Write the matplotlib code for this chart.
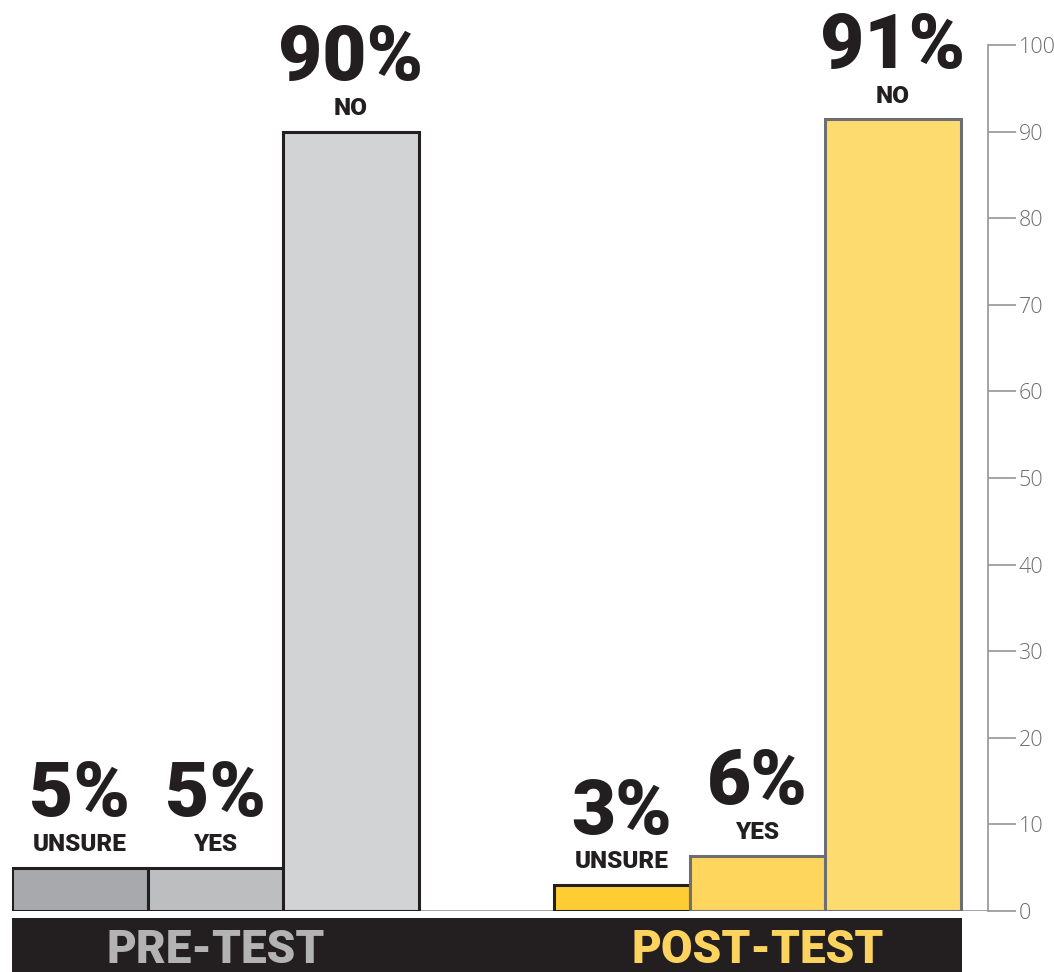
import numpy as np
import matplotlib.pyplot as plt

# -----------------------------
# Data (percent of respondents)
# -----------------------------
answers = ["UNSURE", "YES", "NO"]
pre_values = [5, 5, 90]
post_values = [3, 6.4, 91.4]
pre_labels = ["5%", "5%", "90%"]
post_labels = ["3%", "6%", "91%"]
groups = ["PRE-TEST", "POST-TEST"]
y_ticks = list(range(0, 101, 10))

# -----------------------------
# Style
# -----------------------------
cond = ["Liberation Sans Narrow", "Roboto", "DejaVu Sans"]
pre_colors = ["#a7a9ac", "#bcbec0", "#d1d3d4"]
post_colors = ["#fecd33", "#fed65e", "#fedb6f"]
pre_edges = ["#231f20", "#231f20", "#231f20"]
post_edges = ["#231f20", "#6d6e71", "#6d6e71"]
group_colors = ["#b3b3b3", "#fdd35f"]

fig = plt.figure(figsize=(10.54, 9.72), dpi=100)
ax = fig.add_axes([12 / 1054, 61 / 972, 976 / 1054, 866 / 972])

x_pre = np.arange(len(answers))
x_post = x_pre + 4

ax.bar(x_pre, pre_values, width=1.0, color=pre_colors,
       edgecolor=pre_edges, linewidth=2.2, zorder=3)
ax.bar(x_post, post_values, width=1.0, color=post_colors,
       edgecolor=post_edges, linewidth=2.2, zorder=3)

# value + answer labels above each bar
for xs, vals, labs in [(x_pre, pre_values, pre_labels),
                       (x_post, post_values, post_labels)]:
    for x, v, lab, ans in zip(xs, vals, labs, answers):
        ax.annotate(ans, (x, v), xytext=(0, 12), textcoords="offset points",
                    ha="center", va="baseline", fontsize=17.5,
                    fontweight="black", family=cond, color="#231f20")
        ax.annotate(lab, (x, v), xytext=(0, 37), textcoords="offset points",
                    ha="center", va="baseline", fontsize=55,
                    fontweight="black", family=cond, color="#231f20")

ax.axhline(0, color="#939598", linewidth=1.2, zorder=2)

ax.set_xlim(-0.5, 6.70)
ax.set_ylim(0, 100)
ax.set_xticks([])
ax.set_yticks(y_ticks)
ax.yaxis.tick_right()
ax.tick_params(axis="y", direction="out", length=20, width=1.2,
               color="#939598", labelcolor="#6d6e71", labelsize=15.5, pad=2)
for lab in ax.get_yticklabels():
    lab.set_family(["Open Sans", "DejaVu Sans"])
    lab.set_fontweight("light")
for side in ["left", "top", "bottom"]:
    ax.spines[side].set_visible(False)
ax.spines["right"].set_color("#939598")
ax.spines["right"].set_linewidth(1.2)
ax.patch.set_alpha(0)

# black band with group names
band = fig.add_axes([12 / 1054, 0, 950 / 1054, 54 / 972])
band.set_facecolor("#231f20")
x0, x1 = ax.get_xlim()
band.set_xlim(x0, x0 + (x1 - x0) * 950 / 976)
band.set_ylim(0, 1)
band.set_xticks([])
band.set_yticks([])
for s in band.spines.values():
    s.set_visible(False)
for gx, name, col in zip([x_pre.mean(), x_post.mean()], groups, group_colors):
    band.text(gx, 0.40, name, ha="center", va="center", fontsize=33,
              fontweight="black", family=cond, color=col)

fig.savefig("out.png", dpi=100)
